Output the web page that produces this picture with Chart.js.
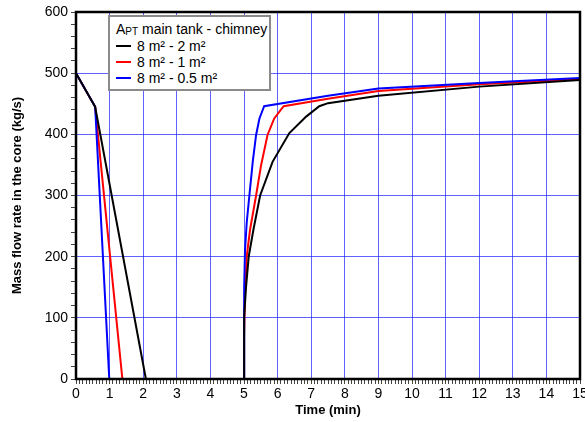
<!DOCTYPE html>
<html>
<head>
<meta charset="utf-8">
<script src="https://cdn.jsdelivr.net/npm/chart.js@4/dist/chart.umd.min.js"></script>
<style>
  html, body { margin: 0; padding: 0; background: #fff; overflow: hidden; }
  #wrap { position: relative; width: 585px; height: 422px; }
  #legend {
    position: absolute; left: 108px; top: 15px; width: 159px; height: 72px;
    border: 2px solid #8a8a8a; background: #fff;
    font: 14px "Liberation Sans", Arial, sans-serif; color: #000;
    box-sizing: content-box;
  }
  #legend .ttl { position: absolute; left: 6px; top: 4px; white-space: nowrap; }
  #legend .ttl sub { font-size: 10px; vertical-align: -1px; }
  #legend .row { position: absolute; left: 6px; white-space: nowrap; }
  #legend .row i { display: inline-block; width: 15px; height: 2px; vertical-align: middle; margin-right: 6px; position: relative; top: -1px; }
</style>
</head>
<body>
<div id="wrap">
  <canvas id="c" width="585" height="422"></canvas>
  <div id="legend"></div>
</div>
<script>
// legend / series labels
const legendTitle = "A<sub>PT</sub> main tank - chimney";
const seriesLabels = ["8 m² - 2 m²", "8 m² - 1 m²", "8 m² - 0.5 m²"];
const seriesColors = ["#000000", "#ff0000", "#0000ff"];

// time (min), mass flow (kg/s)
const black = [
  [0, 500], [0.57, 445], [2.08, 0], [5.0, 0], [5.0, 70], [5.01, 102],
  [5.06, 150], [5.14, 200], [5.28, 244], [5.48, 300], [5.85, 355],
  [6.35, 402], [6.85, 429], [7.24, 446], [7.5, 451], [9, 463],
  [12, 478], [15, 489]
];
const red = [
  [0, 500], [0.57, 445], [1.38, 0], [5.0, 0], [5.0, 70], [5.03, 140],
  [5.08, 200], [5.18, 244], [5.36, 300], [5.51, 350], [5.7, 399],
  [5.9, 426], [6.18, 446], [7.5, 458], [9, 471], [12, 482], [15, 490]
];
const blue = [
  [0, 500], [0.57, 445], [0.99, 0], [5.0, 0], [5.0, 70], [5.01, 150],
  [5.03, 210], [5.08, 255], [5.16, 300], [5.26, 355], [5.36, 399],
  [5.46, 426], [5.6, 446], [7.5, 463], [9, 475], [12, 484], [15, 492]
];

const xTitle = "Time (min)";
const yTitle = "Mass flow rate in the core (kg/s)";

const toPts = (arr) => arr.map(([x, y]) => ({ x, y }));
const isWhole = (v, step) => Math.abs(v / step - Math.round(v / step)) < 1e-6;

// legend box (html, for sub/superscripts)
const legendEl = document.getElementById("legend");
let html = `<div class="ttl">${legendTitle}</div>`;
seriesLabels.forEach((lab, i) => {
  html += `<div class="row" style="top:${21 + i * 16}px"><i style="background:${seriesColors[i]}"></i>${lab}</div>`;
});
legendEl.innerHTML = html;

const frame = {
  id: "frame",
  afterDraw(chart) {
    const { ctx, chartArea: a } = chart;
    ctx.save();
    ctx.strokeStyle = "#000";
    ctx.lineWidth = 2.5;
    ctx.strokeRect(a.left, a.top, a.right - a.left, a.bottom - a.top);
    ctx.restore();
  },
};

const font = { family: "'Liberation Sans', Arial, sans-serif", size: 14 };
const titleFont = { family: "'Liberation Sans', Arial, sans-serif", size: 13, weight: "bold" };
const gridBlue = "rgba(30,30,255,0.7)";

// draw black last so it sits on top
const datasets = [
  { label: seriesLabels[1], data: toPts(red), borderColor: seriesColors[1] },
  { label: seriesLabels[2], data: toPts(blue), borderColor: seriesColors[2] },
  { label: seriesLabels[0], data: toPts(black), borderColor: seriesColors[0] },
].map((d, i) => ({ ...d, borderWidth: 2, pointRadius: 0, tension: 0, fill: false, order: 3 - i }));

new Chart(document.getElementById("c"), {
  type: "line",
  data: { datasets },
  options: {
    responsive: false,
    animation: false,
    layout: { padding: { left: 0, top: 12, right: 5, bottom: 0 } },
    plugins: { legend: { display: false }, tooltip: { enabled: false } },
    scales: {
      x: {
        type: "linear",
        min: 0,
        max: 15,
        border: { display: false },
        ticks: {
          stepSize: 0.1,
          autoSkip: false,
          maxRotation: 0,
          color: "#000",
          font,
          padding: 2,
          callback: (v) => (isWhole(v, 1) ? Math.round(v) : ""),
        },
        grid: {
          drawOnChartArea: true,
          color: (c) => (isWhole(c.tick.value, 1) ? gridBlue : "rgba(0,0,0,0)"),
          tickColor: "#444",
          tickLength: 5,
          lineWidth: 1,
        },
        title: { display: true, text: xTitle, color: "#000", font: titleFont, padding: { top: 0, bottom: 4 } },
        afterFit(s) {
          s.height = 43;
          s.paddingLeft = 0;
          s.paddingRight = 0;
        },
      },
      y: {
        min: 0,
        max: 600,
        border: { display: false },
        ticks: {
          stepSize: 20,
          autoSkip: false,
          color: "#000",
          font,
          padding: 3,
          callback: (v) => (isWhole(v, 100) ? v : ""),
        },
        grid: {
          color: (c) => (isWhole(c.tick.value, 100) ? gridBlue : "rgba(0,0,0,0)"),
          tickColor: "#444",
          tickLength: 5,
          lineWidth: 1,
        },
        title: { display: true, text: yTitle, color: "#000", font: titleFont, padding: { top: 10, bottom: 0 } },
        afterFit(s) {
          s.width = 76;
          s.paddingTop = 0;
          s.paddingBottom = 0;
        },
      },
    },
  },
  plugins: [frame],
});
</script>
</body>
</html>
